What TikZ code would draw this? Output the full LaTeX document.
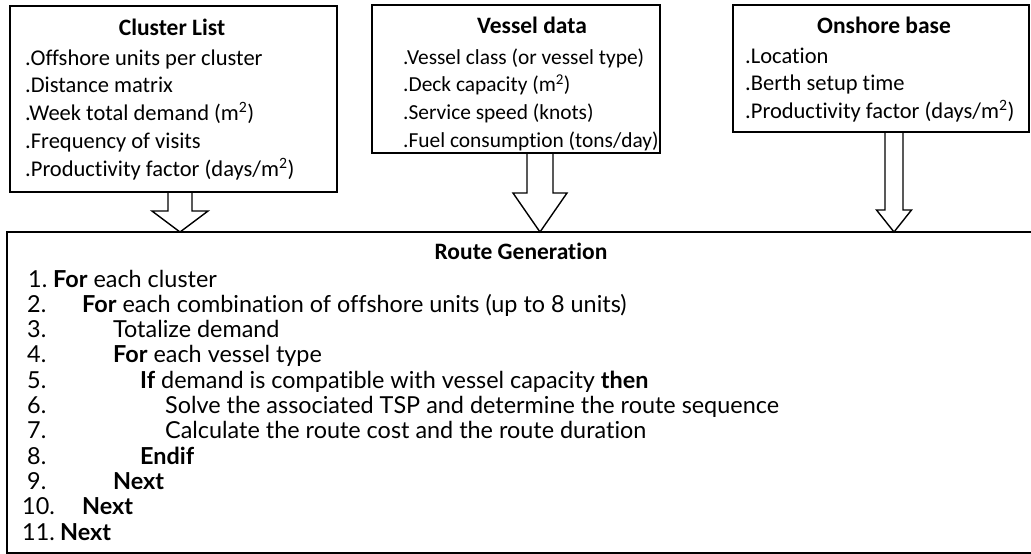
\documentclass[tikz,border=0pt]{standalone}
\usepackage{fontspec}
\setmainfont{Carlito}[Ligatures=NoCommon]
\newfontfamily\routefont{Lato}[Ligatures=NoCommon]
\usetikzlibrary{calc}
\newcommand\rline[4]{\makebox[0pt][l]{\hspace*{#1pt}#2}\hspace*{#3pt}#4}
\begin{document}
\begin{tikzpicture}[x=1pt,y=1pt,
 box/.style={draw, line width=1.8pt, inner sep=0pt, outer sep=0pt},
 barrow/.style={draw, line width=1.4pt, line join=miter},
 hd/.style={font=\fontsize{23.5}{25}\selectfont\bfseries, anchor=base, inner sep=0pt},
 lst/.style={font=\fontsize{22.5}{27.75}\selectfont, anchor=base west, align=left, inner sep=0pt},
 rlst/.style={font=\routefont\fontsize{23.4}{25.3}\selectfont, anchor=base west, align=left, inner sep=0pt},
]
\useasboundingbox (0,0) rectangle (1031,-554);
% boxes
\node[box, minimum width=327pt, minimum height=186pt] (cl) at (173.5,-99) {};
\node[box, minimum width=288pt, minimum height=148pt] (vd) at (516,-79) {};
\node[box, minimum width=296pt, minimum height=127pt] (ob) at (881,-68.5) {};
\node[box, minimum width=1027pt, minimum height=321pt] (rg) at (520.5,-392.5) {};
% headers
\node[hd] (clh) at (172,-35) {Cluster List};
\node[hd] (vdh) at (532,-33) {Vessel data};
\node[hd] (obh) at (884,-33) {Onshore base};
\node[hd] (rgh) at (521,-259) {Route Generation};
% lists (anchored at the baseline of their last line)
\node[lst] (clt) at (25,-176) {.Offshore units per cluster\\.Distance matrix\\.Week total demand (m\textsuperscript{2})\\.Frequency of visits\\.Productivity factor (days/m\textsuperscript{2})};
\node[lst, font=\fontsize{21.4}{27.75}\selectfont] (vdt) at (403,-147.25) {.Vessel class (or vessel type)\\.Deck capacity (m\textsuperscript{2})\\.Service speed (knots)\\.Fuel consumption (tons/day)};
\node[lst] (obt) at (745,-118.5) {.Location\\.Berth setup time\\.Productivity factor (days/m\textsuperscript{2})};
% route text
\node[rlst] (rgt) at (0,-540) {%
\rline{28}{1.}{53}{\textbf{For} each cluster}\\
\rline{27}{2.}{82}{\textbf{For} each combination of offshore units (up to 8 units)}\\
\rline{27}{3.}{113}{Totalize demand}\\
\rline{27}{4.}{113}{\textbf{For} each vessel type}\\
\rline{27}{5.}{140}{\textbf{If} demand is compatible with vessel capacity \textbf{then}}\\
\rline{27}{6.}{165}{Solve the associated TSP and determine the route sequence}\\
\rline{27}{7.}{165}{Calculate the route cost and the route duration}\\
\rline{27}{8.}{140}{\textbf{Endif}}\\
\rline{27}{9.}{113}{\textbf{Next}}\\
\rline{22}{10.}{82}{\textbf{Next}}\\
\rline{22}{11.}{60}{\textbf{Next}}};
% arrows
\coordinate (a1) at (180,0);
\coordinate (a2) at (540,0);
\coordinate (a3) at (894,0);
\draw[barrow] ($(a1|-cl.south)+(-12,0)$) -- ($(a1|-rg.north)+(-12,21)$) -- ($(a1|-rg.north)+(-28,21)$) -- (a1|-rg.north) -- ($(a1|-rg.north)+(28,21)$) -- ($(a1|-rg.north)+(12,21)$) -- ($(a1|-cl.south)+(12,0)$);
\draw[barrow] ($(a2|-vd.south)+(-13,0)$) -- ($(a2|-rg.north)+(-13,39)$) -- ($(a2|-rg.north)+(-27,39)$) -- (a2|-rg.north) -- ($(a2|-rg.north)+(27,39)$) -- ($(a2|-rg.north)+(13,39)$) -- ($(a2|-vd.south)+(13,0)$);
\draw[barrow] ($(a3|-ob.south)+(-9,0)$) -- ($(a3|-rg.north)+(-9,22)$) -- ($(a3|-rg.north)+(-17.5,22)$) -- (a3|-rg.north) -- ($(a3|-rg.north)+(17.5,22)$) -- ($(a3|-rg.north)+(9,22)$) -- ($(a3|-ob.south)+(9,0)$);
\end{tikzpicture}
\end{document}
